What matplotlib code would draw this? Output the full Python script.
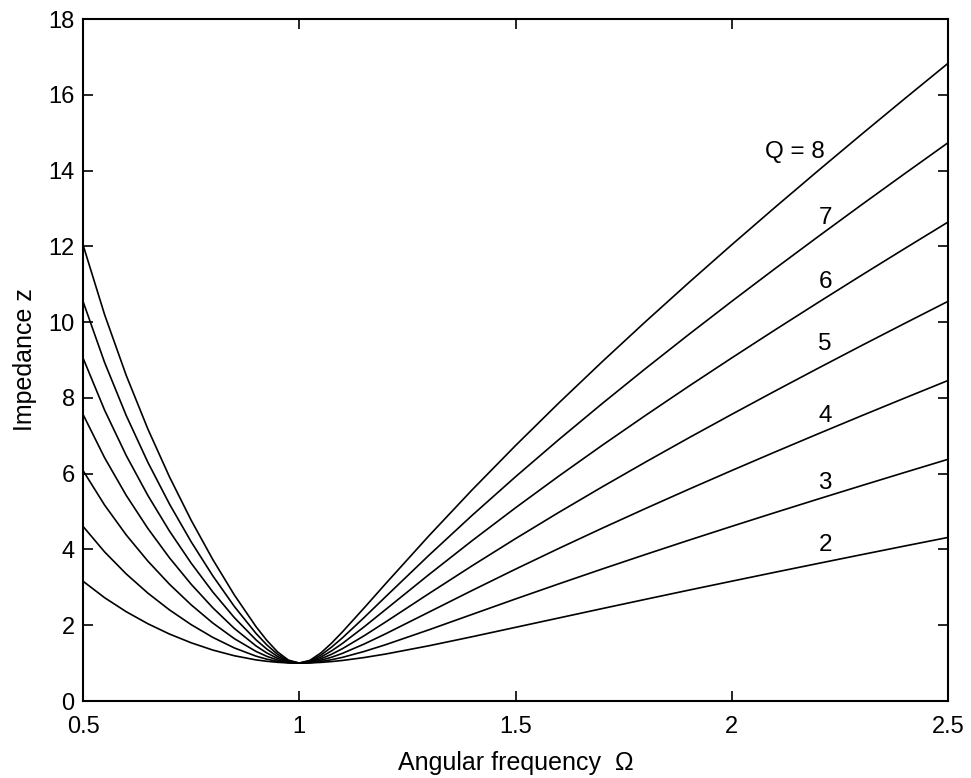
import matplotlib
matplotlib.use("Agg")
import matplotlib.pyplot as plt

plt.rcParams['font.family'] = ['Liberation Sans', 'DejaVu Sans']

omega = [0.5, 0.55, 0.6, 0.65, 0.7, 0.75, 0.8, 0.85, 0.9, 0.925, 0.95, 0.975,
         1.0, 1.025, 1.05, 1.075, 1.1, 1.15, 1.2, 1.3, 1.4, 1.5, 1.6, 1.7,
         1.8, 1.9, 2.0, 2.1, 2.2, 2.3, 2.4, 2.5]

z_q2 = [3.162, 2.726, 2.356, 2.039, 1.767, 1.537, 1.345, 1.194, 1.085, 1.048, 1.021, 1.005,
        1.0, 1.005, 1.019, 1.041, 1.070, 1.147, 1.240, 1.458, 1.697, 1.944, 2.191, 2.438,
        2.682, 2.924, 3.162, 3.398, 3.631, 3.862, 4.091, 4.317]
z_q3 = [4.610, 3.934, 3.353, 2.847, 2.404, 2.016, 1.680, 1.400, 1.184, 1.104, 1.046, 1.011,
        1.0, 1.011, 1.042, 1.090, 1.152, 1.307, 1.487, 1.880, 2.287, 2.693, 3.091, 3.482,
        3.865, 4.241, 4.610, 4.973, 5.331, 5.684, 6.033, 6.379]
z_q4 = [6.083, 5.170, 4.382, 3.692, 3.081, 2.539, 2.059, 1.645, 1.309, 1.179, 1.081, 1.020,
        1.0, 1.019, 1.074, 1.156, 1.258, 1.503, 1.775, 2.347, 2.919, 3.480, 4.026, 4.558,
        5.077, 5.585, 6.083, 6.572, 7.053, 7.528, 7.996, 8.459]
z_q5 = [7.566, 6.419, 5.426, 4.554, 3.778, 3.083, 2.462, 1.914, 1.454, 1.268, 1.124, 1.032,
        1.0, 1.030, 1.113, 1.235, 1.382, 1.722, 2.088, 2.836, 3.571, 4.285, 4.977, 5.648,
        6.302, 6.941, 7.566, 8.180, 8.784, 9.380, 9.967, 10.548]
z_q6 = [9.055, 7.675, 6.478, 5.424, 4.484, 3.640, 2.879, 2.199, 1.614, 1.370, 1.174, 1.045,
        1.0, 1.043, 1.159, 1.325, 1.521, 1.957, 2.417, 3.338, 4.234, 5.099, 5.935, 6.745,
        7.533, 8.303, 9.055, 9.794, 10.520, 11.236, 11.942, 12.640]
z_q7 = [10.548, 8.933, 7.533, 6.299, 5.197, 4.204, 3.305, 2.494, 1.784, 1.481, 1.231, 1.061,
        1.0, 1.058, 1.211, 1.424, 1.669, 2.203, 2.755, 3.848, 4.903, 5.918, 6.898, 7.846,
        8.768, 9.668, 10.548, 11.411, 12.259, 13.095, 13.919, 14.734]
z_q8 = [12.042, 10.195, 8.592, 7.178, 5.914, 4.773, 3.736, 2.797, 1.963, 1.600, 1.294, 1.079,
        1.0, 1.075, 1.269, 1.530, 1.826, 2.456, 3.099, 4.362, 5.576, 6.741, 7.864, 8.950,
        10.006, 11.035, 12.042, 13.029, 13.999, 14.955, 15.898, 16.830]

series = [z_q2, z_q3, z_q4, z_q5, z_q6, z_q7, z_q8]
curve_labels = ["2", "3", "4", "5", "6", "7", "Q = 8"]
label_x = [2.216, 2.216, 2.216, 2.216, 2.216, 2.216, 2.146]
label_y = [4.12, 5.75, 7.52, 9.42, 11.05, 12.74, 14.49]

xticks = [0.5, 1, 1.5, 2, 2.5]
xticklabels = ["0.5", "1", "1.5", "2", "2.5"]
yticks = [0, 2, 4, 6, 8, 10, 12, 14, 16, 18]

fig = plt.figure(figsize=(9.71, 7.78), dpi=100)
ax = fig.add_axes([83/971, 1 - 701/778, (948-83)/971, (701-19)/778])

for z in series:
    ax.plot(omega, z, color='black', lw=1.2)

for t, x, y in zip(curve_labels, label_x, label_y):
    ax.text(x, y, t, fontsize=17.5, ha='center', va='center')

ax.set_xlim(0.5, 2.5)
ax.set_ylim(0, 18)
ax.set_xticks(xticks)
ax.set_xticklabels(xticklabels)
ax.set_yticks(yticks)
ax.tick_params(direction='in', length=7, width=1.2, labelsize=17,
               top=True, right=True)
ax.tick_params(axis='x', pad=11)
ax.tick_params(axis='y', pad=6)
for s in ax.spines.values():
    s.set_linewidth(1.5)

ax.set_xlabel("Angular frequency  Ω", fontsize=18, labelpad=9)
ax.set_ylabel("Impedance z", fontsize=18, labelpad=8)

fig.savefig("out.png", dpi=100)
